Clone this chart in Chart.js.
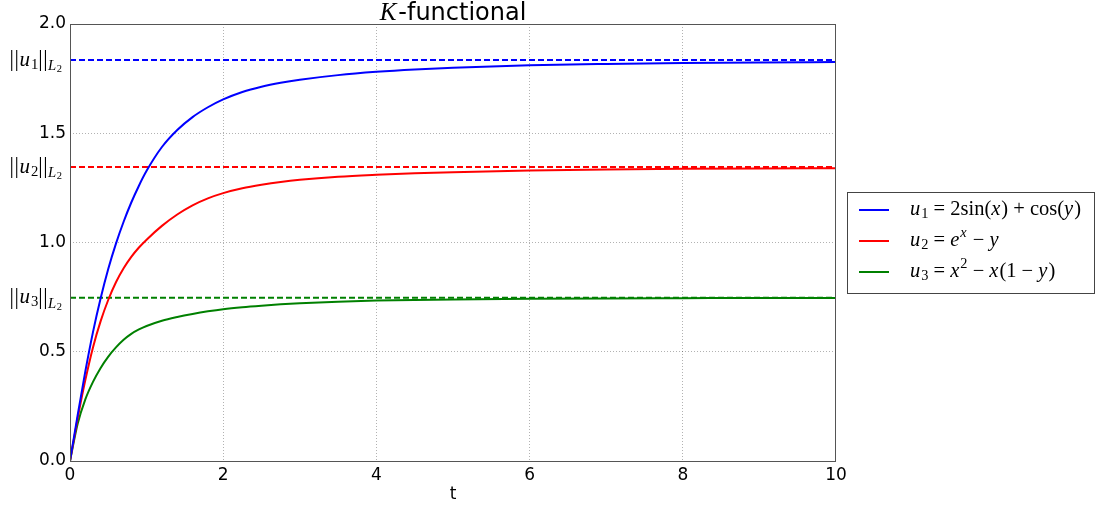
<!DOCTYPE html>
<html>
<head>
<meta charset="utf-8">
<script src="https://cdn.jsdelivr.net/npm/chart.js@4.4.1/dist/chart.umd.min.js"></script>
<style>
  body { margin: 0; background: #fff; }
  #kChart { display: block; }
</style>
</head>
<body>
<canvas id="kChart" width="1104" height="506"></canvas>
<script>
// values
const tValues = [0, 0.1, 0.2, 0.3, 0.4, 0.5, 0.6, 0.7, 0.8, 0.9, 1.0, 1.2, 1.4, 1.6, 1.8, 2.0, 2.25, 2.5, 2.75, 3, 3.5, 4, 4.5, 5, 6, 7, 8, 9, 10];

const u1Values = [0, 0.21, 0.41, 0.59, 0.745, 0.88, 0.995, 1.095, 1.183, 1.26, 1.328, 1.437, 1.515, 1.574, 1.619, 1.655, 1.689, 1.713, 1.731, 1.745, 1.766, 1.781, 1.792, 1.800, 1.811, 1.817, 1.821, 1.824, 1.826];
const u2Values = [0, 0.195, 0.37, 0.52, 0.64, 0.738, 0.818, 0.882, 0.934, 0.977, 1.013, 1.076, 1.128, 1.170, 1.202, 1.226, 1.248, 1.264, 1.277, 1.287, 1.301, 1.310, 1.317, 1.322, 1.329, 1.334, 1.337, 1.339, 1.340];
const u3Values = [0, 0.17, 0.282, 0.362, 0.426, 0.478, 0.52, 0.555, 0.582, 0.602, 0.618, 0.642, 0.659, 0.673, 0.685, 0.695, 0.704, 0.711, 0.717, 0.722, 0.729, 0.734, 0.737, 0.739, 0.742, 0.744, 0.745, 0.746, 0.746];

// L2 norms (dashed lines)
const normValues = [1.835, 1.345, 0.747];
const colors = ['#0000ff', '#ff0000', '#008000'];

const xTicks = [0, 2, 4, 6, 8, 10];
const yTicks = [0, 0.5, 1.0, 1.5, 2.0];

// math text pieces: [text, style]
const legendLabels = [
  [['u', 'i'], ['1', 'sub'], [' = 2sin(', 'r'], ['x', 'i'], [') + cos(', 'r'], ['y', 'i'], [')', 'r']],
  [['u', 'i'], ['2', 'sub'], [' = ', 'r'], ['e', 'i'], ['x', 'supi'], [' \u2212 ', 'r'], ['y', 'i']],
  [['u', 'i'], ['3', 'sub'], [' = ', 'r'], ['x', 'i'], ['2', 'sup'], [' \u2212 ', 'r'], ['x', 'i'], ['(1 \u2212 ', 'r'], ['y', 'i'], [')', 'r']]
];
const normLabels = [1, 2, 3].map(n => [['|', 'bar'], ['|', 'bar'], ['u', 'i'], [String(n), 'sub'], ['|', 'bar'], ['|', 'bar'], ['L', 'subi'], ['2', 'subsub']]);

const SERIF = '"Liberation Serif", "DejaVu Serif", serif';
const SANS = '"DejaVu Sans", sans-serif';

function segStyle(style, size) {
  switch (style) {
    case 'i': return { font: 'italic ' + size + 'px ' + SERIF, dy: 0, gap: 1 };
    case 'bar': return { font: (size * 1.05) + 'px ' + SERIF, dy: 0, gap: 0.5 };
    case 'sub': return { font: (size * 0.7) + 'px ' + SERIF, dy: size * 0.22, gap: 0 };
    case 'subi': return { font: 'italic ' + (size * 0.7) + 'px ' + SERIF, dy: size * 0.3, gap: 0.5 };
    case 'subsub': return { font: (size * 0.5) + 'px ' + SERIF, dy: size * 0.44, gap: 0 };
    case 'sup': return { font: (size * 0.7) + 'px ' + SERIF, dy: -size * 0.38, gap: 0 };
    case 'supi': return { font: 'italic ' + (size * 0.7) + 'px ' + SERIF, dy: -size * 0.38, gap: 1 };
    default: return { font: size + 'px ' + SERIF, dy: 0, gap: 0 };
  }
}

function mathWidth(ctx, segs, size) {
  let w = 0;
  segs.forEach(([txt, st]) => {
    const s = segStyle(st, size);
    ctx.font = s.font;
    w += ctx.measureText(txt).width + s.gap;
  });
  return w;
}

function drawMath(ctx, segs, x, y, size, align) {
  let cx = align === 'right' ? x - mathWidth(ctx, segs, size) : x;
  ctx.textAlign = 'left';
  ctx.textBaseline = 'middle';
  segs.forEach(([txt, st]) => {
    const s = segStyle(st, size);
    ctx.font = s.font;
    ctx.fillText(txt, cx, y + s.dy);
    cx += ctx.measureText(txt).width + s.gap;
  });
}

const extrasPlugin = {
  id: 'extras',
  afterDraw(chart) {
    const ctx = chart.ctx;
    const area = chart.chartArea;
    const yScale = chart.scales.y;
    ctx.save();

    // frame
    ctx.strokeStyle = '#555';
    ctx.lineWidth = 1;
    ctx.strokeRect(area.left + 0.5, area.top + 0.5, area.right - area.left - 1, area.bottom - area.top);

    // title
    const cx = (area.left + area.right) / 2;
    ctx.fillStyle = '#000';
    ctx.textBaseline = 'alphabetic';
    ctx.font = 'italic 25px ' + SERIF;
    const kw = ctx.measureText('K').width;
    ctx.font = '24px ' + SANS;
    const rest = '-functional';
    const rw = ctx.measureText(rest).width;
    let tx = cx - (kw + rw + 2) / 2;
    ctx.font = 'italic 25px ' + SERIF;
    ctx.textAlign = 'left';
    ctx.fillText('K', tx, 20);
    ctx.font = '24px ' + SANS;
    ctx.fillText(rest, tx + kw + 2, 20);

    // norm labels on the y axis
    ctx.fillStyle = '#000';
    normValues.forEach((v, i) => {
      drawMath(ctx, normLabels[i], 62, yScale.getPixelForValue(v), 21, 'right');
    });

    // legend box
    const box = { x: 847, y: 192, w: 247, h: 101 };
    ctx.fillStyle = '#fff';
    ctx.fillRect(box.x, box.y, box.w, box.h);
    ctx.strokeStyle = '#444';
    ctx.strokeRect(box.x + 0.5, box.y + 0.5, box.w, box.h);
    legendLabels.forEach((segs, i) => {
      const ly = box.y + 18 + i * 31;
      ctx.strokeStyle = colors[i];
      ctx.lineWidth = 2;
      ctx.beginPath();
      ctx.moveTo(859, ly);
      ctx.lineTo(889, ly);
      ctx.stroke();
      ctx.fillStyle = '#000';
      drawMath(ctx, segs, 910, ly, 20.5, 'left');
    });
    ctx.restore();
  }
};

const curveSets = [u1Values, u2Values, u3Values].map((vals, i) => ({
  label: 'u' + (i + 1),
  data: tValues.map((t, k) => ({ x: t, y: vals[k] })),
  borderColor: colors[i],
  borderWidth: 2,
  pointRadius: 0,
  cubicInterpolationMode: 'monotone',
  fill: false
}));

const normSets = normValues.map((v, i) => ({
  label: 'norm' + (i + 1),
  data: [{ x: 0, y: v }, { x: 10, y: v }],
  borderColor: colors[i],
  borderWidth: 2,
  borderDash: [6, 3],
  pointRadius: 0,
  fill: false
}));

const config = {
  type: 'line',
  data: { datasets: curveSets.concat(normSets) },
  options: {
    responsive: false,
    animation: false,
    devicePixelRatio: 1,
    layout: { padding: { left: 0, right: 268, top: 24, bottom: 0 } },
    plugins: {
      legend: { display: false },
      title: { display: false },
      tooltip: { enabled: false }
    },
    scales: {
      x: {
        type: 'linear',
        min: 0,
        max: 10,
        afterBuildTicks: scale => { scale.ticks = xTicks.map(v => ({ value: v })); },
        afterFit: scale => { scale.height = 45; },
        ticks: {
          color: '#000',
          font: { family: SANS, size: 17 },
          padding: 4,
          maxRotation: 0
        },
        grid: {
          drawTicks: false,
          color: ctx => (ctx.tick && (ctx.tick.value === 0 || ctx.tick.value === 10)) ? 'rgba(0,0,0,0)' : 'rgba(0,0,0,0.3)',
          lineWidth: 1
        },
        border: { display: false, dash: [1, 2] },
        title: {
          display: true,
          text: 't',
          color: '#000',
          font: { family: SANS, size: 17 },
          padding: { top: 0, bottom: 1 }
        }
      },
      y: {
        min: 0,
        max: 2,
        afterBuildTicks: scale => { scale.ticks = yTicks.map(v => ({ value: v })); },
        afterFit: scale => { scale.width = 70; },
        ticks: {
          color: '#000',
          font: { family: SANS, size: 17 },
          padding: 4,
          callback: v => v.toFixed(1)
        },
        grid: {
          drawTicks: false,
          color: ctx => (ctx.tick && (ctx.tick.value === 0 || ctx.tick.value === 2)) ? 'rgba(0,0,0,0)' : 'rgba(0,0,0,0.3)',
          lineWidth: 1
        },
        border: { display: false, dash: [1, 2] }
      }
    }
  },
  plugins: [extrasPlugin]
};

const kChart = new Chart(document.getElementById('kChart'), config);
</script>
</body>
</html>
